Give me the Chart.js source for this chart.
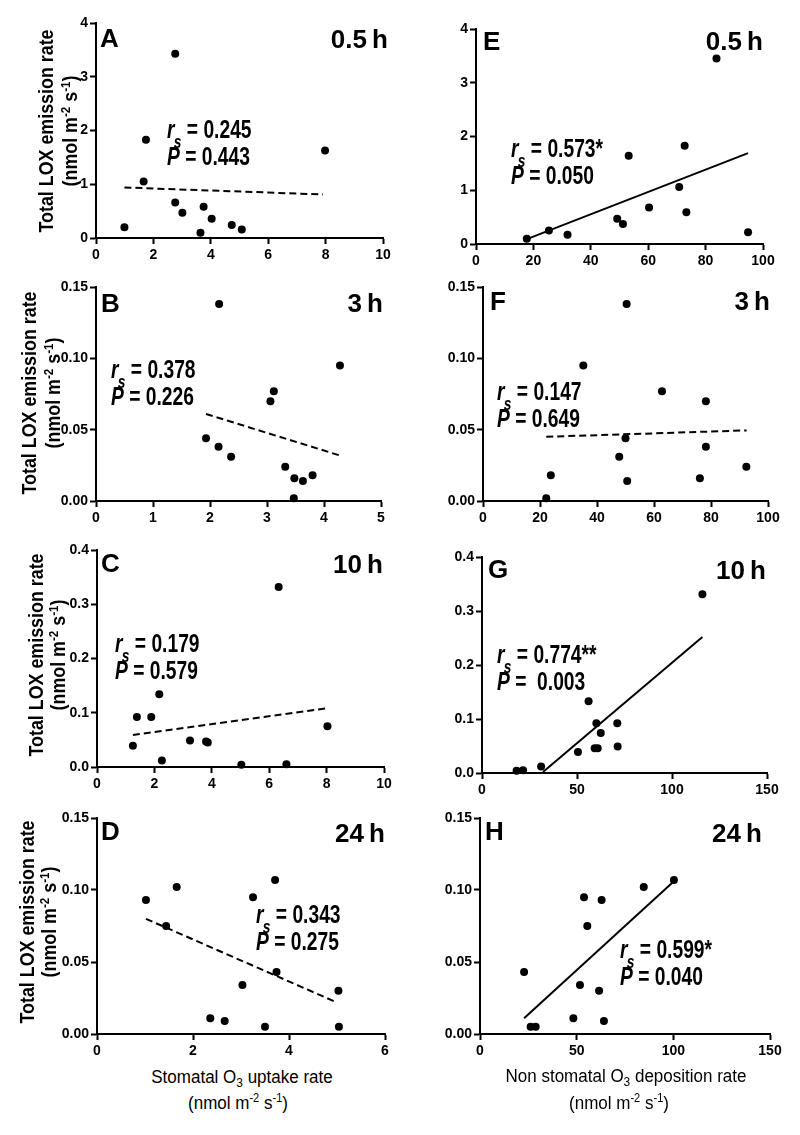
<!DOCTYPE html>
<html>
<head>
<meta charset="utf-8">
<script src="https://cdn.jsdelivr.net/npm/chart.js@4.4.1/dist/chart.umd.min.js"></script>
<style>
  body { margin: 0; background: #fff; width: 800px; height: 1135px; position: relative; overflow: hidden; }
  .box { position: absolute; }
  .t { position: absolute; white-space: nowrap; line-height: 1; color: #000; font-family: 'Liberation Sans', Arial, sans-serif; }
  .lab { font-weight: bold; }
  .ann { font-weight: bold; transform: scale(0.74, 1); transform-origin: 0 85%; }
  .ann .sb { font-size: 0.72em; position: relative; top: 0.55em; margin-left: -1px; }
  .xt { transform: translateX(-50%) scaleY(1.1); transform-origin: 50% 85%; }
  .yt { font-weight: bold; transform: translate(-50%, -50%) rotate(-90deg) scaleX(0.85); }
  .sup { font-size: 0.65em; position: relative; top: -0.55em; }
  .sub { font-size: 0.7em; position: relative; top: 0.3em; }
</style>
</head>
<body>
<script>
// ---- data ----
// A: stomatal O3 uptake vs LOX, 0.5 h
const aX = [0.99, 1.66, 1.74, 2.76, 2.76, 3.01, 3.64, 3.75, 4.03, 4.73, 5.08, 7.98];
const aY = [0.20, 1.05, 1.83, 3.43, 0.66, 0.47, 0.10, 0.58, 0.36, 0.24, 0.16, 1.63];
const aFitX = [0.99, 7.91];
const aFitY = [0.94, 0.81];

// E: non stomatal O3 deposition vs LOX, 0.5 h
const eX = [17.7, 25.4, 31.9, 49.2, 51.2, 53.2, 60.3, 70.8, 72.7, 73.3, 83.8, 94.8];
const eY = [0.10, 0.25, 0.17, 0.47, 0.37, 1.64, 0.68, 1.06, 1.83, 0.59, 3.45, 0.22];
const eFitX = [17.7, 94.8];
const eFitY = [0.09, 1.69];

// B: 3 h
const bX = [2.16, 4.28, 3.12, 3.06, 1.93, 2.15, 2.37, 3.32, 3.48, 3.63, 3.80, 3.47];
const bY = [0.138, 0.095, 0.077, 0.070, 0.044, 0.038, 0.031, 0.024, 0.016, 0.014, 0.018, 0.002];
const bFitX = [1.93, 4.27];
const bFitY = [0.061, 0.032];

// F: 3 h
const fX = [50.4, 35.2, 62.8, 78.2, 50.0, 78.2, 47.8, 92.4, 23.8, 76.1, 50.6, 22.2];
const fY = [0.138, 0.095, 0.077, 0.070, 0.044, 0.038, 0.031, 0.024, 0.018, 0.016, 0.014, 0.002];
const fFitX = [22.2, 92.5];
const fFitY = [0.045, 0.0495];

// C: 10 h
const cX = [1.25, 1.39, 1.89, 2.17, 2.26, 3.24, 3.80, 3.86, 5.03, 6.33, 6.60, 8.03];
const cY = [0.039, 0.092, 0.092, 0.134, 0.012, 0.049, 0.047, 0.045, 0.004, 0.332, 0.005, 0.075];
const cFitX = [1.25, 7.96];
const cFitY = [0.059, 0.108];

// G: 10 h
const gX = [18.2, 21.6, 31.1, 50.5, 56.1, 59.3, 60.2, 60.9, 62.5, 71.2, 71.4, 116.0];
const gY = [0.004, 0.005, 0.012, 0.039, 0.133, 0.046, 0.092, 0.046, 0.074, 0.092, 0.049, 0.331];
const gFitX = [32.1, 116.0];
const gFitY = [0.002, 0.252];

// D: 24 h
const dX = [1.02, 1.44, 1.66, 2.36, 2.66, 3.03, 3.25, 3.50, 3.71, 3.74, 5.03, 5.04];
const dY = [0.093, 0.075, 0.102, 0.011, 0.009, 0.034, 0.095, 0.005, 0.107, 0.043, 0.030, 0.005];
const dFitX = [1.02, 4.99];
const dFitY = [0.080, 0.022];

// H: 24 h
const hX = [22.8, 26.2, 28.8, 48.3, 51.7, 53.8, 55.5, 61.6, 62.9, 64.1, 84.7, 100.3];
const hY = [0.043, 0.005, 0.005, 0.011, 0.034, 0.095, 0.075, 0.030, 0.093, 0.009, 0.102, 0.107];
const hFitX = [22.8, 100.3];
const hFitY = [0.011, 0.106];

// tick values and labels
const xTicks10 = [0, 2, 4, 6, 8, 10];
const xTicks5 = [0, 1, 2, 3, 4, 5];
const xTicks6 = [0, 2, 4, 6];
const xTicks100 = [0, 20, 40, 60, 80, 100];
const xTicks150 = [0, 50, 100, 150];
const yTicks4 = [0, 1, 2, 3, 4];
const yLabels4 = ['0', '1', '2', '3', '4'];
const yTicks015 = [0, 0.05, 0.10, 0.15];
const yLabels015 = ['0.00', '0.05', '0.10', '0.15'];
const yTicks04 = [0, 0.1, 0.2, 0.3, 0.4];
const yLabels04 = ['0.0', '0.1', '0.2', '0.3', '0.4'];

Chart.defaults.font.family = "'Liberation Sans', Arial, sans-serif";
Chart.defaults.color = '#000';

function panel(rect, xs, ys, fitX, fitY, xTicks, yTicks, yLabels, dashed) {
    const L = Math.round(rect[0]), T = Math.round(rect[1]), R = Math.round(rect[2]), B = Math.round(rect[3]);
    const padL = 60, padT = 14, padR = 16, padB = 30;
    const w = R - L + padL + padR, h = B - T + padT + padB;
    const div = document.createElement('div');
    div.className = 'box';
    div.style.left = (L - padL) + 'px';
    div.style.top = (T - padT) + 'px';
    const cv = document.createElement('canvas');
    cv.width = w;
    cv.height = h;
    div.appendChild(cv);
    document.body.appendChild(div);

    const axisGrid = { drawOnChartArea: false, drawTicks: true, tickLength: 6, tickWidth: 2, tickColor: '#000' };
    const axisBorder = { display: true, color: '#000', width: 2 };

    new Chart(cv, {
        type: 'scatter',
        data: {
            datasets: [
                {
                    data: xs.map((x, i) => ({ x: x, y: ys[i] })),
                    backgroundColor: '#000',
                    borderWidth: 0,
                    pointRadius: 4,
                    clip: false
                },
                {
                    type: 'line',
                    data: fitX.map((x, i) => ({ x: x, y: fitY[i] })),
                    borderColor: '#000',
                    borderWidth: 2,
                    borderDash: dashed ? [7, 4] : [],
                    pointRadius: 0,
                    fill: false,
                    clip: false
                }
            ]
        },
        options: {
            responsive: false,
            animation: false,
            devicePixelRatio: 1,
            layout: { padding: { left: 0, top: padT, right: padR, bottom: 0 } },
            plugins: { legend: { display: false }, tooltip: { enabled: false } },
            scales: {
                x: {
                    type: 'linear',
                    min: xTicks[0],
                    max: xTicks[xTicks.length - 1],
                    afterBuildTicks: s => { s.ticks = xTicks.map(v => ({ value: v })); },
                    afterFit: s => { s.height = padB; },
                    ticks: { color: '#000', font: { size: 14, weight: 'bold' }, padding: 3, maxRotation: 0, autoSkip: false },
                    grid: axisGrid,
                    border: axisBorder
                },
                y: {
                    type: 'linear',
                    min: yTicks[0],
                    max: yTicks[yTicks.length - 1],
                    afterBuildTicks: s => { s.ticks = yTicks.map(v => ({ value: v })); },
                    afterFit: s => { s.width = padL; },
                    ticks: {
                        color: '#000', font: { size: 14, weight: 'bold' }, padding: 2, autoSkip: false,
                        callback: (v, i) => yLabels[i]
                    },
                    grid: axisGrid,
                    border: axisBorder
                }
            }
        }
    });
}

panel([95.7, 22.7, 382.7, 237.7], aX, aY, aFitX, aFitY, xTicks10, yTicks4, yLabels4, true);
panel([476, 29, 763.3, 244.3], eX, eY, eFitX, eFitY, xTicks100, yTicks4, yLabels4, false);
panel([95.7, 287.3, 380.7, 500.7], bX, bY, bFitX, bFitY, xTicks5, yTicks015, yLabels015, true);
panel([483.3, 287.3, 768, 500.7], fX, fY, fFitX, fFitY, xTicks100, yTicks015, yLabels015, true);
panel([96.7, 549.7, 384, 767.3], cX, cY, cFitX, cFitY, xTicks10, yTicks04, yLabels04, true);
panel([481.7, 556.7, 766.7, 772.7], gX, gY, gFitX, gFitY, xTicks150, yTicks04, yLabels04, false);
panel([96.7, 818.3, 385, 1034.3], dX, dY, dFitX, dFitY, xTicks6, yTicks015, yLabels015, true);
panel([480, 818.3, 770, 1034.3], hX, hY, hFitX, hFitY, xTicks150, yTicks015, yLabels015, false);

// ---- text ----
function txt(html, x, base, size, cls, align) {
    const d = document.createElement('div');
    d.className = 't ' + cls;
    d.innerHTML = html;
    d.style.fontSize = size + 'px';
    d.style.top = (base - 0.85 * size) + 'px';
    if (align === 'right') d.style.right = (800 - x) + 'px';
    else d.style.left = x + 'px';
    document.body.appendChild(d);
}

function ytitle(html, cx, cy, size) {
    const d = document.createElement('div');
    d.className = 't yt';
    d.innerHTML = html;
    d.style.fontSize = size + 'px';
    d.style.left = cx + 'px';
    d.style.top = cy + 'px';
    document.body.appendChild(d);
}

function stats(x, base, rs, p) {
    txt('<i>r</i><i class="sb">s</i> = ' + rs, x, base, 26, 'ann');
    txt('<i>P</i> = ' + p, x, base + 27, 26, 'ann');
}

// panel letters and times
txt('A', 100, 47, 26, 'lab');  txt('0.5\u2009h', 388, 48, 26, 'lab', 'right');
txt('E', 483, 50, 26, 'lab');  txt('0.5\u2009h', 763, 50, 26, 'lab', 'right');
txt('B', 101, 312, 26, 'lab'); txt('3\u2009h', 383, 312, 26, 'lab', 'right');
txt('F', 490, 310, 26, 'lab'); txt('3\u2009h', 770, 310, 26, 'lab', 'right');
txt('C', 101, 572, 26, 'lab'); txt('10\u2009h', 383, 573, 26, 'lab', 'right');
txt('G', 488, 578, 26, 'lab'); txt('10\u2009h', 766, 579, 26, 'lab', 'right');
txt('D', 101, 840, 26, 'lab'); txt('24\u2009h', 385, 842, 26, 'lab', 'right');
txt('H', 485, 840, 26, 'lab'); txt('24\u2009h', 762, 842, 26, 'lab', 'right');

// correlation statistics
stats(167, 138, '0.245', '0.443');
stats(511, 157, '0.573*', '0.050');
stats(111, 378, '0.378', '0.226');
stats(497, 400, '0.147', '0.649');
stats(115, 652, '0.179', '0.579');
stats(497, 663, '0.774**', '&nbsp;0.003');
stats(256, 923, '0.343', '0.275');
stats(620, 958, '0.599*', '0.040');

// y axis titles (left column)
const yT1 = 'Total LOX emission rate';
const yT2 = '(nmol m<span class="sup">-2</span> s<span class="sup">-1</span>)';
[[45, 69, 131], [28, 52, 393], [35, 57, 655], [26, 48, 922]].forEach(r => {
    ytitle(yT1, r[0], r[2], 21);
    ytitle(yT2, r[1], r[2], 21);
});

// x axis titles
txt('Stomatal O<span class="sub">3</span> uptake rate', 242, 1083, 17, 'xt');
txt('(nmol m<span class="sup">-2</span> s<span class="sup">-1</span>)', 238, 1109, 17, 'xt');
txt('Non stomatal O<span class="sub">3</span> deposition rate', 626, 1082, 17, 'xt');
txt('(nmol m<span class="sup">-2</span> s<span class="sup">-1</span>)', 619, 1109, 17, 'xt');
</script>
</body>
</html>
